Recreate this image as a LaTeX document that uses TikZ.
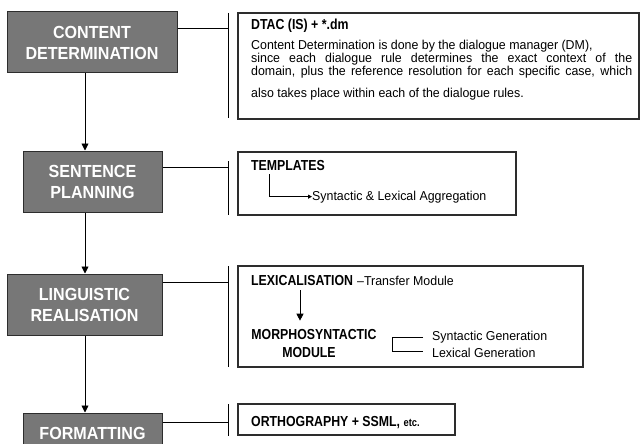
\documentclass[tikz,border=0pt]{standalone}
\usepackage{fontspec}
\setmainfont{Liberation Sans}
\newfontfamily\bodyf[FakeStretch=0.96]{Liberation Sans}
\newfontfamily\headf[FakeStretch=0.85]{Liberation Sans}
\newfontfamily\grayf[FakeStretch=0.92]{Liberation Sans}
\usetikzlibrary{arrows.meta}
\definecolor{stagegray}{RGB}{119,119,119}
\definecolor{edgegray}{RGB}{45,45,45}
\begin{document}
\begin{tikzpicture}[x=1pt,y=-1pt,
  stage/.style={draw=edgegray, line width=1pt, fill=stagegray, text=white,
    font=\grayf\bfseries\fontsize{17.5}{21}\selectfont, align=center, inner sep=0pt},
  info/.style={draw=edgegray, line width=1.2pt, fill=white, inner sep=0pt},
  conn/.style={line width=0.9pt, black},
  arr/.style={conn, -{Triangle[length=7pt,width=7pt]}},
  arrs/.style={conn, -{Triangle[length=4pt,width=4pt]}},
  bodyt/.style={font=\bodyf\fontsize{12.9}{12.5}\selectfont, inner sep=0pt, anchor=base west},
  headt/.style={font=\headf\bfseries\fontsize{14.5}{17}\selectfont, inner sep=0pt, anchor=base west}
]
\useasboundingbox (0,0) rectangle (640,444);
\clip (0,0) rectangle (640,444);
\fill[white] (0,0) rectangle (640,444);

% stages
\node[stage, minimum width=170pt, minimum height=61pt] (cd) at (92,42.5) {CONTENT\\DETERMINATION};
\node[stage, minimum width=139pt, minimum height=61pt] (sp) at (92.5,181.5) {SENTENCE\\PLANNING};
\node[stage, minimum width=155pt, minimum height=61pt] (lr) at (84.5,304.5) {LINGUISTIC\\REALISATION};
\node[stage, minimum width=139pt, minimum height=40pt] (fm) at (92.5,433) {FORMATTING};

% spine arrows
\coordinate (spine) at (85,0);
\draw[arr] (spine |- cd.south) -- (spine |- sp.north);
\draw[arr] (spine |- sp.south) -- (spine |- lr.north);
\draw[arr] (spine |- lr.south) -- (spine |- fm.north);

% info boxes
\node[info, minimum width=401pt, minimum height=106pt] (rb1) at (438.5,66) {};
\node[info, minimum width=278pt, minimum height=63pt] (rb2) at (377,183.5) {};
\node[info, minimum width=345pt, minimum height=101pt] (rb3) at (410.5,316.5) {};
\node[info, minimum width=217pt, minimum height=31pt] (rb4) at (346.5,419.5) {};

% bars and connectors
\coordinate (b1t) at (228,13);  \coordinate (b1b) at (228,118); \coordinate (b1m) at (228,28);
\coordinate (b2t) at (228,161); \coordinate (b2b) at (228,215); \coordinate (b2m) at (228,167);
\coordinate (b3t) at (228,266); \coordinate (b3b) at (228,367); \coordinate (b3m) at (228,282);
\coordinate (b4t) at (228,404); \coordinate (b4b) at (228,436); \coordinate (b4m) at (228,422);
\draw[conn] (b1t) -- (b1b);  \draw[conn] (cd.east |- b1m) -- (b1m);
\draw[conn] (b2t) -- (b2b);  \draw[conn] (sp.east |- b2m) -- (b2m);
\draw[conn] (b3t) -- (b3b);  \draw[conn] (lr.east |- b3m) -- (b3m);
\draw[conn] (b4t) -- (b4b);  \draw[conn] (fm.east |- b4m) -- (b4m);

% box 1 text
\node[headt] (t1) at (251,30) {DTAC (IS) + *.dm};
\node[bodyt] (l1) at (251,50) {Content Determination is done by the dialogue manager (DM),};
\node[bodyt] (l2) at (251,63) {\makebox[381pt][s]{since each dialogue rule determines the exact context of the}};
\node[bodyt] (l3) at (251,76) {\makebox[381pt][s]{domain, plus the reference resolution for each specific case, which}};
\node[bodyt] (l4) at (251,97) {also takes place within each of the dialogue rules.};

% box 2 text
\node[headt] (tp) at (251,170) {TEMPLATES};
\node[bodyt] (sla) at (312,200) {Syntactic \& Lexical Aggregation};
\coordinate (tpk) at (269,174);
\draw[arrs] (tpk) |- (sla.west);

% box 3 text
\node[headt] (lex) at (251,285) {LEXICALISATION};
\node[bodyt] (tm) at (357,285) {–Transfer Module};
\node[headt, anchor=base] (ms1) at (314,339) {MORPHOSYNTACTIC};
\node[headt, anchor=base] (ms2) at (309,357) {MODULE};
\coordinate (ax) at (300,0);
\draw[arr, shorten <=5pt, shorten >=8pt] (lex.south -| ax) -- (ms1.north -| ax);
\node[bodyt] (sg) at (432,340) {Syntactic Generation};
\node[bodyt] (lg) at (432,357) {Lexical Generation};
\coordinate (brt) at (423,337); \coordinate (brb) at (423,351);
\draw[conn] (brt) -- ++(-31,0) |- (brb);

% box 4 text
\node[headt] (orth) at (251,426) {ORTHOGRAPHY + SSML, {\fontsize{11}{12}\selectfont etc.}};
\end{tikzpicture}
\end{document}
